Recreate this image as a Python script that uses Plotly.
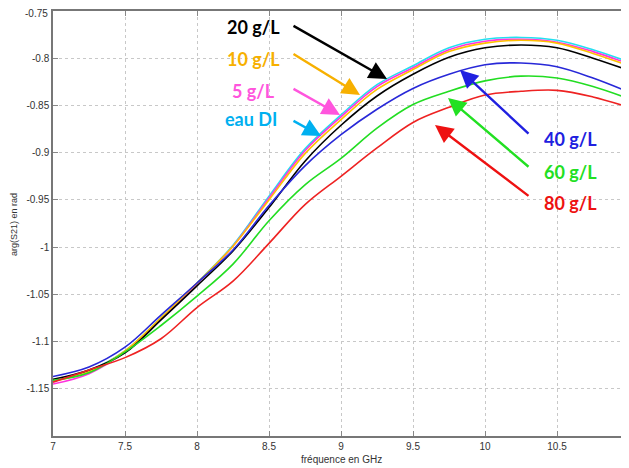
import plotly.graph_objects as go

freq = [7, 7.25, 7.5, 7.75, 8, 8.25, 8.5, 8.75, 9, 9.25, 9.5, 9.75, 10, 10.25, 10.5, 10.75, 11]

eau_di = [-1.142, -1.131, -1.110, -1.075, -1.038, -0.998, -0.946, -0.896, -0.860, -0.828, -0.808, -0.789, -0.780, -0.778, -0.781, -0.791, -0.804]
g5 = [-1.145, -1.134, -1.111, -1.076, -1.039, -0.999, -0.948, -0.898, -0.862, -0.830, -0.810, -0.791, -0.782, -0.780, -0.783, -0.793, -0.806]
g10 = [-1.142, -1.132, -1.110, -1.075, -1.038, -0.999, -0.950, -0.901, -0.865, -0.833, -0.812, -0.793, -0.784, -0.781, -0.784, -0.795, -0.808]
g20 = [-1.140, -1.130, -1.112, -1.077, -1.041, -1.004, -0.958, -0.909, -0.871, -0.840, -0.817, -0.799, -0.789, -0.786, -0.789, -0.800, -0.813]
g40 = [-1.137, -1.127, -1.106, -1.072, -1.038, -1.003, -0.956, -0.914, -0.881, -0.854, -0.832, -0.817, -0.807, -0.805, -0.809, -0.821, -0.836]
g60 = [-1.141, -1.133, -1.111, -1.083, -1.052, -1.018, -0.972, -0.934, -0.906, -0.874, -0.849, -0.835, -0.824, -0.819, -0.821, -0.830, -0.843]
g80 = [-1.143, -1.130, -1.117, -1.097, -1.064, -1.036, -0.996, -0.955, -0.925, -0.895, -0.868, -0.852, -0.839, -0.835, -0.834, -0.841, -0.852]

series_names = ["eau DI", "5 g/L", "10 g/L", "20 g/L", "40 g/L", "60 g/L", "80 g/L"]
series_values = [eau_di, g5, g10, g20, g40, g60, g80]
line_colors = ["#22E0F0", "#FF33DD", "#FFC000", "#000000", "#2828D8", "#22DD22", "#EE2222"]

x_ticks = [7, 7.5, 8, 8.5, 9, 9.5, 10, 10.5, 11]
x_tick_labels = ["7", "7.5", "8", "8.5", "9", "9.5", "10", "10.5", "11"]
y_ticks = [-1.15, -1.1, -1.05, -1.0, -0.95, -0.9, -0.85, -0.8, -0.75]
y_tick_labels = ["-1.15", "-1.1", "-1.05", "-1", "-0.95", "-0.9", "-0.85", "-0.8", "-0.75"]

labels = ["20 g/L", "10 g/L", "5 g/L", "eau DI", "40 g/L", "60 g/L", "80 g/L"]
label_colors = ["#000000", "#F7B000", "#FF55DD", "#00B0F0", "#2020E0", "#22E022", "#EE1111"]

fig = go.Figure()
for name, vals, col in zip(series_names, series_values, line_colors):
    fig.add_trace(go.Scatter(x=freq, y=vals, mode="lines", name=name,
                             line=dict(color=col, width=1.6, shape="spline", smoothing=1.0)))

# the page body adds an 8 px offset; plot area wanted at window px (53..629, 11..436)
OFF = 8
L, T, PW, PH = 53, 11, 576, 425
X0, X1, Y0, Y1 = 7.0, 11.0, -1.2, -0.75


def px2data(px, py):
    return X0 + (px - L) / PW * (X1 - X0), Y1 - (py - T) / PH * (Y1 - Y0)


def px2paper(px, py):
    return (px - L) / PW, (T + PH - py) / PH


text_pos = [(253, 27), (253, 59), (253, 91), (251, 119), (570, 139), (570, 172), (570, 203)]
arrow_tail = [(292, 25), (292, 53), (292, 88), (292, 120), (530, 135), (530, 168), (530, 197)]
arrow_tip = [(387, 79), (360, 95), (340, 115), (321, 136), (460, 70), (448, 98), (435, 125)]

annotations = []
for lab, col, tp, tail, tip in zip(labels, label_colors, text_pos, arrow_tail, arrow_tip):
    tx, ty = px2data(*tp)
    annotations.append(dict(x=tx, y=ty, xref="x", yref="y", text="<b>%s</b>" % lab,
                            showarrow=False, font=dict(family="Lato", size=18, color=col),
                            xanchor="center", yanchor="middle"))
    hx, hy = px2data(*tip)
    annotations.append(dict(x=hx, y=hy, xref="x", yref="y", text="",
                            showarrow=True, arrowhead=2, arrowwidth=2.4, arrowsize=1.5,
                            arrowcolor=col, ax=tail[0] - tip[0], ay=tail[1] - tip[1],
                            axref="pixel", ayref="pixel", standoff=0, startstandoff=0))

# top y tick label drawn as an annotation, nudged so it is not clipped at the page top
top_label = y_tick_labels[-1]
tlx, tly = px2paper(50, 13)
annotations.append(dict(x=tlx, y=tly, xref="paper", yref="paper", text=top_label,
                        showarrow=False, xanchor="right", yanchor="middle",
                        font=dict(family="Liberation Sans", size=10, color="#333")))

yx, yy = px2paper(14, 225)
annotations.append(dict(x=yx, y=yy, xref="paper", yref="paper", text="arg(S21) en rad",
                        showarrow=False, textangle=-90, xanchor="center", yanchor="middle",
                        font=dict(family="Liberation Sans", size=9, color="#333")))
xx, xy = px2paper(341, 460)
annotations.append(dict(x=xx, y=xy, xref="paper", yref="paper", text="fréquence en GHz",
                        showarrow=False, xanchor="center", yanchor="middle",
                        font=dict(family="Liberation Sans", size=10, color="#333")))

axis_common = dict(showgrid=True, gridcolor="#c8c8c8", griddash="dot", gridwidth=1,
                   showline=True, linecolor="#777", linewidth=1.5, mirror="ticks",
                   ticks="inside", ticklen=5, tickcolor="#888", zeroline=False,
                   ticklabeloverflow="allow",
                   tickfont=dict(family="Liberation Sans", size=10, color="#333"))

fig.update_layout(
    width=629 - OFF, height=468 - OFF,
    margin=dict(l=L - OFF, r=0, t=T - OFF, b=468 - T - PH, pad=0, autoexpand=False),
    paper_bgcolor="white", plot_bgcolor="white",
    showlegend=False,
    annotations=annotations,
    xaxis=dict(range=[X0, X1], tickvals=x_ticks, ticktext=x_tick_labels, **axis_common),
    yaxis=dict(range=[Y0, Y1], tickvals=y_ticks, ticktext=y_tick_labels[:-1] + [""], **axis_common),
)

fig.write_html("out.html")
